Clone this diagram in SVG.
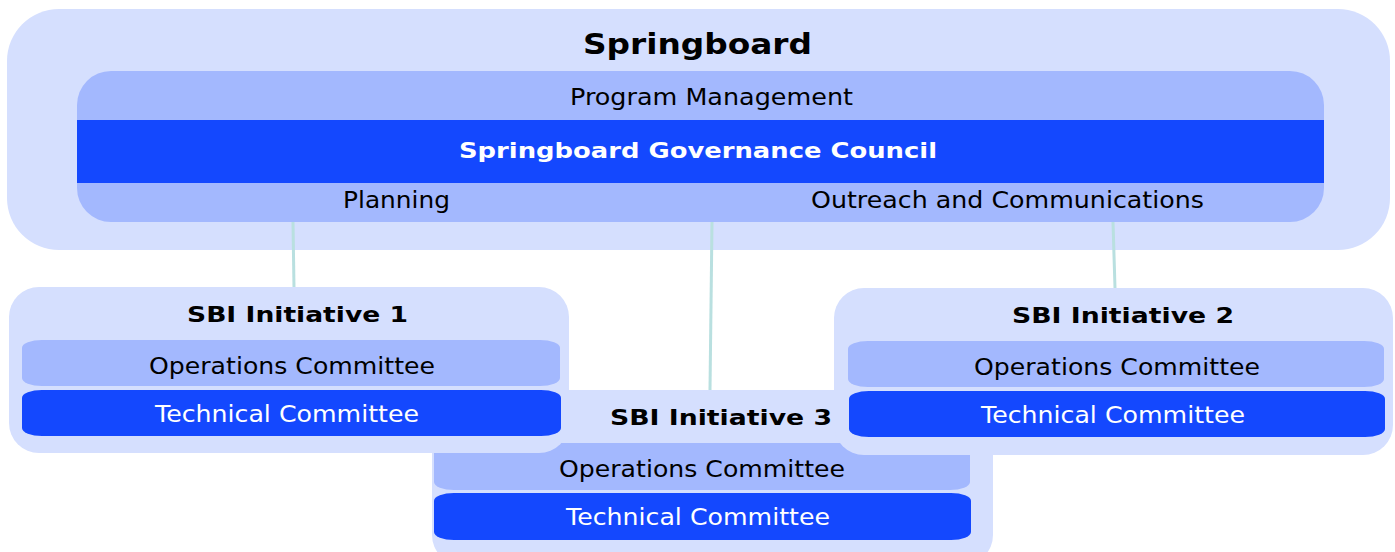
<svg xmlns="http://www.w3.org/2000/svg" width="1395" height="552" viewBox="0 0 1395 552">
<style>
.t{font-family:"DejaVu Sans","Liberation Sans",sans-serif;text-anchor:middle}
.lt{fill:#D5DFFE}
.md{fill:#A3B8FE}
.dk{fill:#1448FE}
.k{fill:#000}
.w{fill:#fff}
.h{font-weight:bold;font-size:21.5px}
.n{font-size:22.5px}
.conn{stroke:#B9E0E0;stroke-width:3;fill:none}
</style>
<rect width="1395" height="552" fill="#fff"/>
<g id="springboard">
<rect class="lt" x="7" y="9" width="1383" height="241" rx="52" ry="52"/>
<rect class="md" x="77" y="71" width="1247" height="151" rx="34" ry="34"/>
<rect class="dk" x="77" y="120" width="1247" height="63"/>
<text class="t" x="697.5" y="54" style="font-weight:bold;font-size:28px" textLength="229" lengthAdjust="spacingAndGlyphs">Springboard</text>
<text class="t n k" x="711.5" y="105" textLength="283" lengthAdjust="spacingAndGlyphs">Program Management</text>
<text class="t w" x="698" y="158" style="font-weight:bold;font-size:21.5px" textLength="478" lengthAdjust="spacingAndGlyphs">Springboard Governance Council</text>
<text class="t n k" x="396.5" y="208" textLength="107" lengthAdjust="spacingAndGlyphs">Planning</text>
<text class="t n k" x="1007.5" y="208" textLength="393" lengthAdjust="spacingAndGlyphs">Outreach and Communications</text>
</g>
<g id="connectors">
<line class="conn" x1="293" y1="222" x2="294" y2="288"/>
<line class="conn" x1="712" y1="222" x2="710" y2="390"/>
<line class="conn" x1="1113" y1="222" x2="1115" y2="288"/>
</g>
<g id="initiative3">
<rect class="lt" x="432" y="390" width="561" height="175" rx="30" ry="30"/>
<rect class="md" x="434" y="443" width="536" height="47" rx="20" ry="8"/>
<rect class="dk" x="434" y="493" width="537" height="47" rx="20" ry="8"/>
<text class="t h k" x="721" y="425" textLength="222" lengthAdjust="spacingAndGlyphs">SBI Initiative 3</text>
<text class="t n k" x="702" y="476.5" textLength="286" lengthAdjust="spacingAndGlyphs">Operations Committee</text>
<text class="t n w" x="698" y="525" textLength="264" lengthAdjust="spacingAndGlyphs">Technical Committee</text>
</g>
<g id="initiative1">
<rect class="lt" x="9" y="287" width="560" height="166" rx="30" ry="30"/>
<rect class="md" x="22" y="340" width="538" height="46" rx="20" ry="8"/>
<rect class="dk" x="22" y="390" width="539" height="46" rx="20" ry="8"/>
<text class="t h k" x="297.5" y="322" textLength="221" lengthAdjust="spacingAndGlyphs">SBI Initiative 1</text>
<text class="t n k" x="292" y="374" textLength="286" lengthAdjust="spacingAndGlyphs">Operations Committee</text>
<text class="t n w" x="287" y="421.5" textLength="264" lengthAdjust="spacingAndGlyphs">Technical Committee</text>
</g>
<g id="initiative2">
<rect class="lt" x="834" y="288" width="559" height="167" rx="30" ry="30"/>
<rect class="md" x="848" y="341" width="536" height="46" rx="20" ry="8"/>
<rect class="dk" x="849" y="391" width="536" height="46" rx="20" ry="8"/>
<text class="t h k" x="1123" y="323" textLength="222" lengthAdjust="spacingAndGlyphs">SBI Initiative 2</text>
<text class="t n k" x="1117" y="375" textLength="286" lengthAdjust="spacingAndGlyphs">Operations Committee</text>
<text class="t n w" x="1113" y="422.5" textLength="264" lengthAdjust="spacingAndGlyphs">Technical Committee</text>
</g>
</svg>
